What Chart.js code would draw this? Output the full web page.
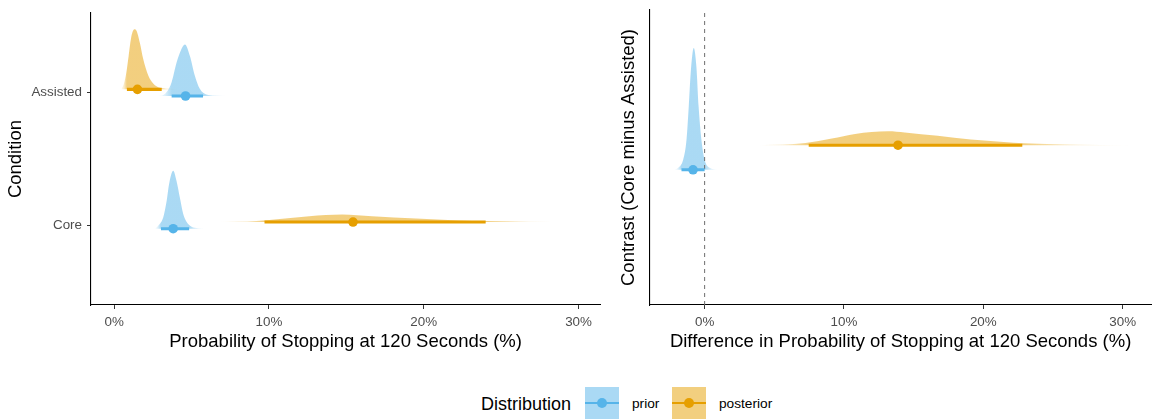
<!DOCTYPE html>
<html><head><meta charset="utf-8">
<script src="https://cdn.jsdelivr.net/npm/chart.js@4.4.1/dist/chart.umd.min.js"></script>
<style>
html,body{margin:0;padding:0;background:#fff;width:1156px;height:419px;overflow:hidden;position:relative;font-family:"Liberation Sans",Arial,sans-serif;}
#c1{position:absolute;left:0;top:0;}
#c2{position:absolute;left:605px;top:0;}
.leg{position:absolute;white-space:nowrap;line-height:1;color:#000;}
.key{position:absolute;top:387px;width:34px;height:32px;}
.key .ln{position:absolute;left:0;right:0;top:15px;height:2px;}
.key .dt{position:absolute;left:12px;top:11px;width:10px;height:10px;border-radius:50%;}
</style></head><body>
<canvas id="c1" width="605" height="360"></canvas>
<canvas id="c2" width="551" height="360"></canvas>
<div class="leg" style="left:481px;top:395px;font-size:18px;">Distribution</div>
<div class="key" style="left:585px;background:rgba(86,180,233,0.5);"><div class="ln" style="background:#56B4E9"></div><div class="dt" style="background:#56B4E9"></div></div>
<div class="leg" style="left:632px;top:397px;font-size:13.7px;">prior</div>
<div class="key" style="left:672px;background:rgba(230,159,0,0.5);"><div class="ln" style="background:#E69F00"></div><div class="dt" style="background:#E69F00"></div></div>
<div class="leg" style="left:719px;top:397px;font-size:13.7px;">posterior</div>
<script>
// ---------- DATA ----------
const conditionLabels = ['Core', 'Assisted'];          // y positions 1, 2
const xTickValues = [0, 10, 20, 30];                    // percent

// Density slabs: x in %, height in y-axis units
const assistedPostX = [0.45, 0.62, 0.78, 0.93, 1.08, 1.30, 1.42, 1.66, 1.87, 2.20, 2.52, 2.95, 3.5, 4.2];
const assistedPostH = [0, 0.04, 0.125, 0.25, 0.38, 0.452, 0.445, 0.35, 0.23, 0.105, 0.045, 0.012, 0.004, 0];
const assistedPriorX = [2.85, 3.2, 3.45, 3.71, 4.03, 4.29, 4.57, 4.89, 5.21, 5.53, 5.96, 6.5, 7.2];
const assistedPriorH = [0, 0.01, 0.04, 0.104, 0.252, 0.339, 0.387, 0.301, 0.153, 0.054, 0.011, 0.003, 0];
const corePriorX = [2.64, 2.85, 3.17, 3.39, 3.54, 3.81, 4.03, 4.24, 4.46, 4.68, 5.0, 5.42, 5.85];
const corePriorH = [0, 0.024, 0.087, 0.21, 0.333, 0.437, 0.358, 0.235, 0.111, 0.05, 0.015, 0.004, 0];
const corePostX = [6.82, 9.18, 10.87, 12.6, 14.73, 16.66, 19.49, 22.25, 24.0, 26.75, 29.97];
const corePostH = [0, 0.0074, 0.024, 0.044, 0.057, 0.044, 0.027, 0.0126, 0.0074, 0.003, 0];
const contrastPriorX = [-2.14, -1.9, -1.54, -1.30, -1.14, -1.0, -0.78, -0.59, -0.43, -0.23, 0, 0.36, 0.95];
const contrastPriorH = [0, 0.008, 0.041, 0.122, 0.256, 0.393, 0.495, 0.419, 0.256, 0.122, 0.041, 0.008, 0];
const contrastPostX = [3.91, 7.24, 9.13, 10.8, 13.17, 14.36, 16.73, 19.1, 21.47, 22.9, 26.2, 30.7];
const contrastPostH = [0, 0.0094, 0.027, 0.046, 0.057, 0.052, 0.038, 0.023, 0.0134, 0.008, 0.003, 0];

// Point estimates and 95% intervals: [Core, Assisted]
const priorPoint = [3.81, 4.61];
const priorLow = [3.02, 3.71];
const priorHigh = [4.84, 5.74];
const posteriorPoint = [15.43, 1.50];
const posteriorLow = [9.71, 0.82];
const posteriorHigh = [24.0, 3.07];
// Contrast: [prior, posterior]
const contrastPoint = [-0.83, 13.88];
const contrastLow = [-1.66, 7.47];
const contrastHigh = [0.0, 22.8];

// ---------- STYLE ----------
const FONT = '"Liberation Sans", Arial, sans-serif';
const PRIOR_RGB = '86,180,233', POST_RGB = '230,159,0';
const PRIOR_COL = '#56B4E9', POST_COL = '#E69F00';
const DODGE_L = 0.025, DODGE_R = 0.05;

function slab(xs, hs, base, rgb, lo, hi) {
  return {
    type: 'line',
    data: xs.map((x, i) => ({x: x, y: base + hs[i]})),
    fill: {value: base},
    borderWidth: 0, pointRadius: 0, cubicInterpolationMode: 'monotone',
    order: 5,
    backgroundColor: (ctx) => {
      const chart = ctx.chart;
      if (!chart.chartArea) return 'rgba(' + rgb + ',0.5)';
      const sx = chart.scales.x;
      const x0 = sx.getPixelForValue(xs[0]), x1 = sx.getPixelForValue(xs[xs.length - 1]);
      const g = chart.ctx.createLinearGradient(x0, 0, x1, 0);
      const cl = v => Math.max(0, Math.min(1, v));
      const pl = cl((sx.getPixelForValue(lo) - x0) / (x1 - x0));
      const ph = cl((sx.getPixelForValue(hi) - x0) / (x1 - x0));
      const c = a => 'rgba(' + rgb + ',' + a + ')';
      g.addColorStop(0, c(0.04));
      g.addColorStop(pl * 0.5, c(0.2));
      g.addColorStop(pl, c(0.5));
      g.addColorStop(ph, c(0.5));
      g.addColorStop(ph + (1 - ph) * 0.5, c(0.2));
      g.addColorStop(1, c(0.03));
      return g;
    }
  };
}
function interval(lo, hi, base, col) {
  return {type: 'line', data: [{x: lo, y: base}, {x: hi, y: base}], borderColor: col,
    borderWidth: 3.1, pointRadius: 0, fill: false, borderCapStyle: 'butt', order: 2};
}
function point(x, base, col) {
  return {type: 'line', data: [{x: x, y: base}], pointRadius: 4.8, pointBackgroundColor: col,
    pointBorderWidth: 0, showLine: false, order: 1};
}

function xScale(min, max, title) {
  return {
    type: 'linear', min: min, max: max,
    afterBuildTicks: s => { s.ticks = xTickValues.map(v => ({value: v})); },
    ticks: {callback: v => v + '%', color: '#4D4D4D', font: {size: 13.4, family: FONT}, padding: 5, maxRotation: 0, autoSkip: false},
    grid: {drawOnChartArea: false, drawTicks: true, tickLength: 4, color: '#333333', lineWidth: 1},
    border: {display: true, color: '#000000', width: 1.1},
    title: {display: true, text: title, color: '#000000', font: {size: 18.5, family: FONT}, padding: {top: 0, bottom: 7}},
    afterFit: s => { s.height = 55; }
  };
}

const common = {
  responsive: false, animation: false, events: [],
  plugins: {legend: {display: false}, tooltip: {enabled: false}},
};

// ---------- LEFT PANEL ----------
const leftDatasets = [];
// Core = 1, Assisted = 2
for (let i = 0; i < 2; i++) {
  const yc = i + 1;
  leftDatasets.push(point(posteriorPoint[i], yc + DODGE_L, POST_COL));
  leftDatasets.push(point(priorPoint[i], yc - DODGE_L, PRIOR_COL));
  leftDatasets.push(interval(posteriorLow[i], posteriorHigh[i], yc + DODGE_L, POST_COL));
  leftDatasets.push(interval(priorLow[i], priorHigh[i], yc - DODGE_L, PRIOR_COL));
}
leftDatasets.push(slab(corePriorX, corePriorH, 1 - DODGE_L, PRIOR_RGB, priorLow[0], priorHigh[0]));
leftDatasets.push(slab(corePostX, corePostH, 1 + DODGE_L, POST_RGB, posteriorLow[0], posteriorHigh[0]));
leftDatasets.push(slab(assistedPriorX, assistedPriorH, 2 - DODGE_L, PRIOR_RGB, priorLow[1], priorHigh[1]));
leftDatasets.push(slab(assistedPostX, assistedPostH, 2 + DODGE_L, POST_RGB, posteriorLow[1], posteriorHigh[1]));

new Chart(document.getElementById('c1'), {
  type: 'line',
  data: {datasets: leftDatasets},
  options: Object.assign({}, common, {
    layout: {padding: {top: 10, right: 2, left: 0, bottom: 0}},
    scales: {
      x: xScale(-1.5, 31.4, 'Probability of Stopping at 120 Seconds (%)'),
      y: {
        type: 'linear', min: 0.4, max: 2.6,
        afterBuildTicks: s => { s.ticks = conditionLabels.map((c, i) => ({value: i + 1})); },
        ticks: {callback: v => conditionLabels[Math.round(v) - 1], color: '#4D4D4D', font: {size: 13.4, family: FONT}, padding: 5},
        grid: {drawOnChartArea: false, drawTicks: true, tickLength: 4, color: '#333333', lineWidth: 1},
        border: {display: true, color: '#000000', width: 1.1},
        title: {display: true, text: 'Condition', color: '#000000', font: {size: 18.5, family: FONT}, padding: {top: 5, bottom: 0}},
        afterFit: s => { s.width = 91; }
      }
    }
  })
});

// ---------- RIGHT PANEL ----------
const rightDatasets = [
  point(contrastPoint[1], 1 + DODGE_R, POST_COL),
  point(contrastPoint[0], 1 - DODGE_R, PRIOR_COL),
  interval(contrastLow[1], contrastHigh[1], 1 + DODGE_R, POST_COL),
  interval(contrastLow[0], contrastHigh[0], 1 - DODGE_R, PRIOR_COL),
  {type: 'line', data: [{x: 0, y: 0.4}, {x: 0, y: 1.6}], borderColor: '#6E6E6E', borderWidth: 1,
   borderDash: [4, 4], pointRadius: 0, fill: false, order: 3},
  slab(contrastPriorX, contrastPriorH, 1 - DODGE_R, PRIOR_RGB, contrastLow[0], contrastHigh[0]),
  slab(contrastPostX, contrastPostH, 1 + DODGE_R, POST_RGB, contrastLow[1], contrastHigh[1])
];

new Chart(document.getElementById('c2'), {
  type: 'line',
  data: {datasets: rightDatasets},
  options: Object.assign({}, common, {
    layout: {padding: {top: 10, right: 1, left: 0, bottom: 0}},
    scales: {
      x: xScale(-3.92, 32.05, 'Difference in Probability of Stopping at 120 Seconds (%)'),
      y: {
        type: 'linear', min: 0.4, max: 1.6,
        ticks: {display: false},
        grid: {display: false},
        border: {display: true, color: '#000000', width: 1.1},
        title: {display: true, text: 'Contrast (Core minus Assisted)', color: '#000000', font: {size: 18.5, family: FONT}, padding: {top: 13, bottom: 0}},
        afterFit: s => { s.width = 45; }
      }
    }
  })
});
</script>
</body></html>
